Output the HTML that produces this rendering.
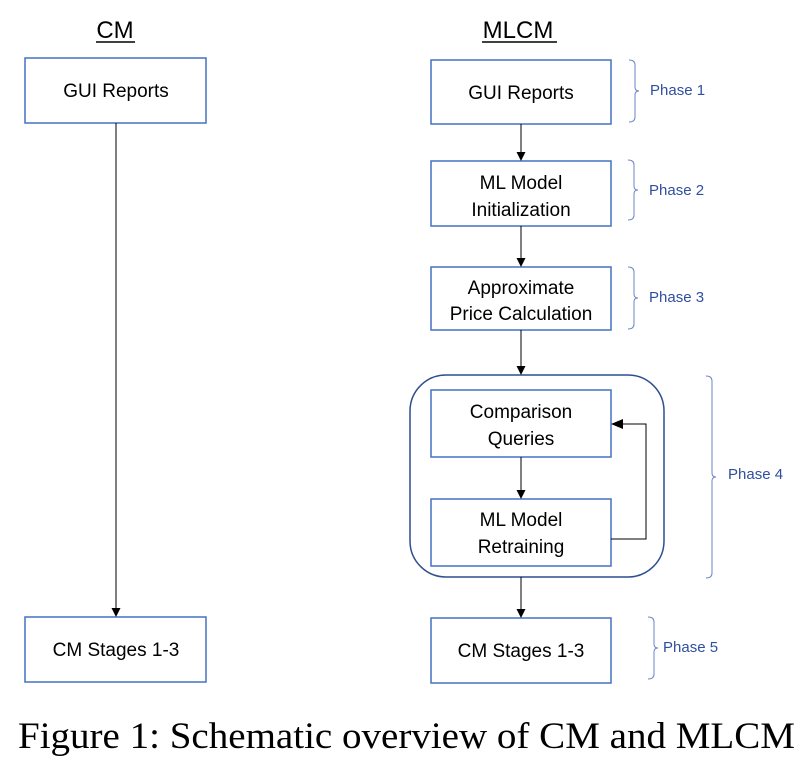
<!DOCTYPE html>
<html><head><style>body{margin:0;background:#fff}svg{display:block}</style></head><body>
<svg width="810" height="760" viewBox="0 0 810 760" xmlns="http://www.w3.org/2000/svg">
<defs><marker id="a" markerWidth="9" markerHeight="9" refX="8" refY="4.5" orient="auto" markerUnits="userSpaceOnUse"><path d="M0,0L9,4.5L0,9z" fill="#000"/></marker>
<marker id="b" markerWidth="12" markerHeight="10" refX="11" refY="5" orient="auto" markerUnits="userSpaceOnUse"><path d="M0,0L12,5L0,10z" fill="#000"/></marker></defs>
<g font-family="Liberation Sans Narrow, Liberation Sans, sans-serif" font-size="24" text-anchor="middle" fill="#000">
<text x="115" y="38">CM</text><line x1="96" y1="42" x2="135" y2="42" stroke="#000" stroke-width="1.5"/>
<text x="518" y="38">MLCM</text><line x1="482" y1="42" x2="557" y2="42" stroke="#000" stroke-width="1.5"/>
</g>
<g fill="none" stroke="#4472c4" stroke-width="1.5">
<rect x="25" y="58" width="181" height="65"/>
<rect x="25" y="617" width="181" height="65"/>
<rect x="431" y="60" width="180" height="64"/>
<rect x="431" y="161" width="180" height="65"/>
<rect x="431" y="267" width="180" height="63"/>
<rect x="431" y="390" width="180" height="67"/>
<rect x="431" y="499" width="180" height="67"/>
<rect x="431" y="618" width="180" height="65"/>
</g>
<rect x="410" y="375" width="254" height="202" rx="36" fill="none" stroke="#2f4f8f" stroke-width="1.5"/>
<g stroke="#000" stroke-width="1" fill="none">
<line x1="116" y1="123" x2="116" y2="616" marker-end="url(#a)"/>
<line x1="521" y1="124" x2="521" y2="160" marker-end="url(#a)"/>
<line x1="521" y1="226" x2="521" y2="266" marker-end="url(#a)"/>
<line x1="521" y1="330" x2="521" y2="374" marker-end="url(#a)"/>
<line x1="521" y1="457" x2="521" y2="498" marker-end="url(#a)"/>
<line x1="521" y1="577" x2="521" y2="617" marker-end="url(#a)"/>
<polyline points="611,539 646,539 646,424 612,424" marker-end="url(#b)"/>
</g>
<g font-family="Liberation Sans, sans-serif" font-size="19" text-anchor="middle" fill="#000">
<text x="116" y="97">GUI Reports</text>
<text x="116" y="656">CM Stages 1-3</text>
<text x="521" y="99">GUI Reports</text>
<text x="521" y="189">ML Model</text><text x="521" y="216">Initialization</text>
<text x="521" y="294">Approximate</text><text x="521" y="320">Price Calculation</text>
<text x="521" y="418">Comparison</text><text x="521" y="445">Queries</text>
<text x="521" y="526">ML Model</text><text x="521" y="553">Retraining</text>
<text x="521" y="657">CM Stages 1-3</text>
</g>
<g fill="none" stroke="#6b86c4" stroke-width="1">
<path d="M629,60 q6,0 6,5 v22 q0,4 4,4 q-4,0 -4,4 v22 q0,5 -6,5"/>
<path d="M628,160 q6,0 6,5 v21 q0,4 4,4 q-4,0 -4,4 v21 q0,5 -6,5"/>
<path d="M628,267 q6,0 6,5 v22 q0,4 4,4 q-4,0 -4,4 v22 q0,5 -6,5"/>
<path d="M706,376 q6,0 6,5 v92 q0,4 4,4 q-4,0 -4,4 v92 q0,5 -6,5"/>
<path d="M648,617 q6,0 6,5 v22 q0,4 4,4 q-4,0 -4,4 v22 q0,5 -6,5"/>
</g>
<g font-family="Liberation Sans, sans-serif" font-size="15" fill="#2f4f9f">
<text x="650" y="95">Phase 1</text>
<text x="649" y="195">Phase 2</text>
<text x="649" y="302">Phase 3</text>
<text x="728" y="479">Phase 4</text>
<text x="663" y="652">Phase 5</text>
</g>
<text x="18" y="748" font-family="Liberation Serif, serif" font-size="37" textLength="777" lengthAdjust="spacingAndGlyphs" fill="#000">Figure 1: Schematic overview of CM and MLCM</text>
</svg>
</body></html>
